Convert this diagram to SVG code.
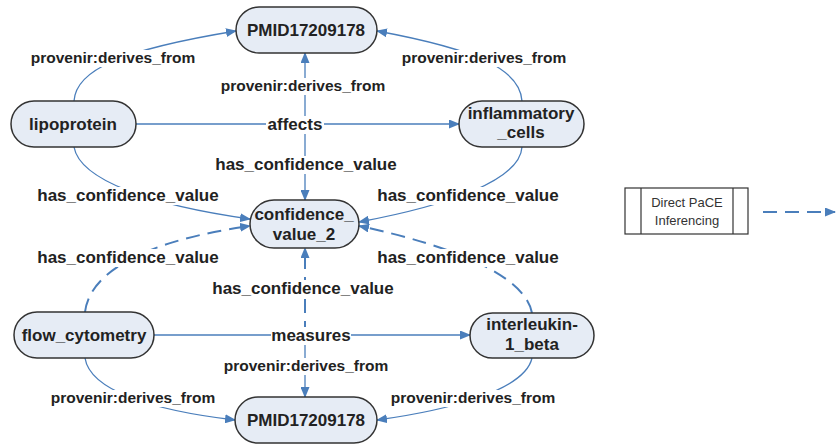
<svg xmlns="http://www.w3.org/2000/svg" width="837" height="446" viewBox="0 0 837 446">
<defs>
<marker id="arr" markerUnits="userSpaceOnUse" markerWidth="11" markerHeight="9" refX="10" refY="4.5" orient="auto">
<path d="M0,0 L11,4.5 L0,9 z" fill="#4a7ebb"/>
</marker>
<style>
.node rect{fill:#e6ecf5;stroke:#333;stroke-width:1.5}
.nt{font-family:"Liberation Sans",Arial,sans-serif;font-weight:bold;font-size:17px;fill:#222;text-anchor:middle}
.e{fill:none;stroke:#4a7ebb;stroke-width:1.3}
.d{fill:none;stroke:#4a7ebb;stroke-width:2;stroke-dasharray:14 8}
.lb{fill:#fff}
.lt{font-family:"Liberation Sans",Arial,sans-serif;font-weight:bold;font-size:17px;fill:#222;text-anchor:middle}
.pv{font-size:15.5px}
.leg{font-family:"Liberation Sans",Arial,sans-serif;font-size:13px;fill:#333;text-anchor:middle}
</style>
</defs>
<rect width="837" height="446" fill="#fff"/>
<g id="connectors">
<path class="e" d="M74,101 C76,70 120,50 236,31" marker-end="url(#arr)"/>
<path class="e" d="M522,101 C520,70 480,50 377,31" marker-end="url(#arr)"/>
<path class="e" d="M305,124 L305,53" marker-end="url(#arr)"/>
<path class="e" d="M305,124 L305,200" marker-end="url(#arr)"/>
<path class="e" d="M136,124 L459,124" marker-end="url(#arr)"/>
<path class="e" d="M74,147 C80,180 150,205 250,219" marker-end="url(#arr)"/>
<path class="e" d="M522,147 C520,180 450,205 359,222" marker-end="url(#arr)"/>
<path class="d" d="M85,312 C90,270 150,240 250,226" marker-end="url(#arr)"/>
<path class="d" d="M532,313 C525,275 450,245 359,226" marker-end="url(#arr)"/>
<path class="e" d="M154,335 L470,335" marker-end="url(#arr)"/>
<path class="d" d="M305,335 L305,248" marker-end="url(#arr)"/>
<path class="e" d="M305,335 L305,397" marker-end="url(#arr)"/>
<path class="e" d="M85,358 C90,390 150,410 235,420" marker-end="url(#arr)"/>
<path class="e" d="M532,358 C525,390 450,410 377,420" marker-end="url(#arr)"/>
<g id="labels">
<rect class="lb" x="31" y="50" width="164" height="17"/><text class="lt pv" x="113" y="63">provenir:derives_from</text>
<rect class="lb" x="221" y="78" width="164" height="17"/><text class="lt pv" x="303" y="91">provenir:derives_from</text>
<rect class="lb" x="402" y="50" width="164" height="17"/><text class="lt pv" x="484" y="63">provenir:derives_from</text>
<rect class="lb" x="266" y="116" width="58" height="18"/><text class="lt" x="295" y="130">affects</text>
<rect class="lb" x="215" y="156" width="182" height="18"/><text class="lt" x="306" y="170">has_confidence_value</text>
<rect class="lb" x="37" y="187" width="182" height="18"/><text class="lt" x="128" y="201">has_confidence_value</text>
<rect class="lb" x="377" y="187" width="182" height="18"/><text class="lt" x="468" y="201">has_confidence_value</text>
<rect class="lb" x="37" y="249" width="182" height="18"/><text class="lt" x="128" y="263">has_confidence_value</text>
<rect class="lb" x="377" y="249" width="182" height="18"/><text class="lt" x="468" y="263">has_confidence_value</text>
<rect class="lb" x="212" y="280" width="182" height="18"/><text class="lt" x="303" y="294">has_confidence_value</text>
<rect class="lb" x="271" y="327" width="80" height="18"/><text class="lt" x="311" y="341">measures</text>
<rect class="lb" x="224" y="358" width="164" height="17"/><text class="lt pv" x="306" y="371">provenir:derives_from</text>
<rect class="lb" x="51" y="390" width="164" height="17"/><text class="lt pv" x="133" y="403">provenir:derives_from</text>
<rect class="lb" x="391" y="390" width="164" height="17"/><text class="lt pv" x="473" y="403">provenir:derives_from</text>
</g>
</g>
<g id="pmid_top" class="node"><rect x="236" y="7" width="141" height="46" rx="23"/><text class="nt" x="306" y="36">PMID17209178</text></g>
<g id="lipoprotein" class="node"><rect x="11" y="101" width="125" height="46" rx="23"/><text class="nt" x="73" y="130">lipoprotein</text></g>
<g id="inflammatory_cells" class="node"><rect x="459" y="101" width="125" height="46" rx="23"/><text class="nt" x="521" y="119">inflammatory</text><text class="nt" x="521" y="138">_cells</text></g>
<g id="confidence_value_2" class="node"><rect x="250" y="200" width="109" height="48" rx="24"/><text class="nt" x="304" y="220">confidence_</text><text class="nt" x="304" y="240">value_2</text></g>
<g id="flow_cytometry" class="node"><rect x="14" y="312" width="140" height="46" rx="23"/><text class="nt" x="84" y="341">flow_cytometry</text></g>
<g id="interleukin_1_beta" class="node"><rect x="470" y="313" width="124" height="45" rx="22.5"/><text class="nt" x="532" y="330">interleukin-</text><text class="nt" x="532" y="350">1_beta</text></g>
<g id="pmid_bottom" class="node"><rect x="235" y="397" width="142" height="46" rx="23"/><text class="nt" x="306" y="426">PMID17209178</text></g>
<g id="legend">
<rect x="625" y="188" width="123" height="46" fill="#fff" stroke="#333" stroke-width="1.2"/>
<line x1="641" y1="188" x2="641" y2="234" stroke="#333" stroke-width="1.2"/>
<line x1="733" y1="188" x2="733" y2="234" stroke="#333" stroke-width="1.2"/>
<text class="leg" x="687" y="207">Direct PaCE</text>
<text class="leg" x="687" y="225">Inferencing</text>
<path class="d" d="M763,212 L835,212" marker-end="url(#arr)"/>
</g>
</svg>
